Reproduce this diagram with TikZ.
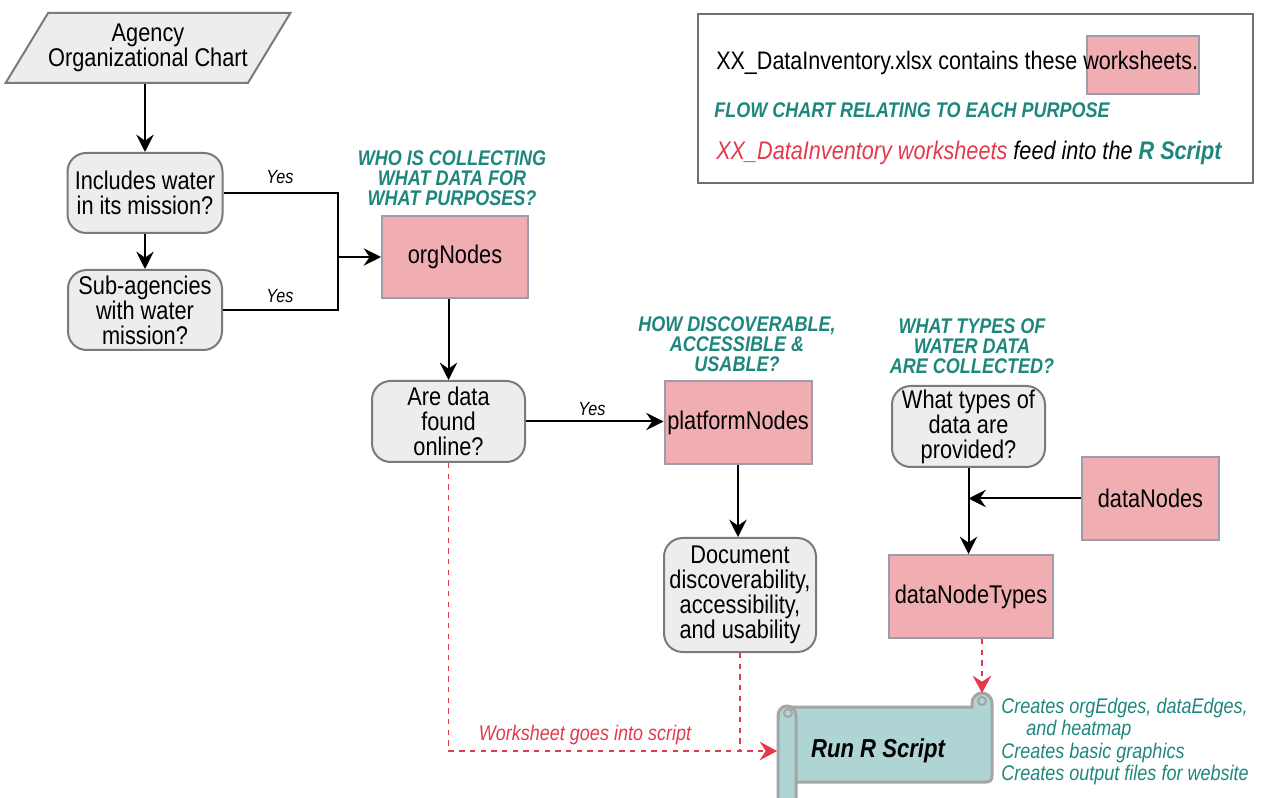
\documentclass[tikz,border=0pt]{standalone}
\usepackage{fontspec}
\setmainfont{Liberation Sans}[FakeStretch=0.85]
\usetikzlibrary{shapes.geometric,arrows.meta}
\definecolor{wteal}{RGB}{30,135,125}
\definecolor{wred}{RGB}{226,58,76}
\definecolor{pfill}{RGB}{240,174,179}
\definecolor{pborder}{RGB}{158,156,171}
\definecolor{gfill}{RGB}{236,237,236}
\definecolor{gborder}{RGB}{122,122,122}
\definecolor{sfill}{RGB}{174,212,212}
\definecolor{sborder}{RGB}{165,165,165}
\definecolor{lborder}{RGB}{112,112,112}
\newlength\px \setlength\px{0.75pt}
\newcommand\nodefont{\fontsize{19.2pt}{18.75pt}\selectfont}
\newcommand\titlefont{\fontsize{15.9pt}{15pt}\selectfont\bfseries\itshape}
\begin{document}
\begin{tikzpicture}[x=0.75pt,y=-0.75pt,
  gbox/.style={draw=gborder, fill=gfill, line width=1.5pt, rounded corners=14pt, align=center, font=\nodefont, inner sep=0pt},
  pbox/.style={draw=pborder, fill=pfill, line width=1.5pt, align=center, font=\nodefont, inner sep=0pt},
  arr/.style={line width=1.5pt, -{Stealth[length=13pt,width=13pt,inset=4.5pt]}},
  link/.style={line width=1.5pt},
  rdash/.style={draw=wred, line width=0.9pt, dash pattern=on 4pt off 4pt},
  rarr/.style={rdash, -{Stealth[length=13pt,width=14pt,inset=4.5pt,fill=wred]}},
  ttl/.style={text=wteal, font=\titlefont, align=center, inner sep=0pt},
  yes/.style={font=\fontsize{14.3pt}{15pt}\selectfont\itshape, inner sep=0pt},
  scroll/.style={draw=sborder, fill=sfill, line width=2.25pt}
]
\useasboundingbox (0,0) rectangle (1261,798);

% legend
\draw[draw=lborder, line width=1.5pt] (698,14) rectangle (1253,183);
\fill[pfill, draw=pborder, line width=1.5pt] (1087,36) rectangle (1199,94);
\node[anchor=base west, inner sep=0pt, font=\fontsize{19pt}{20pt}\selectfont] (leg1) at (716,70) {XX\_DataInventory.xlsx contains these worksheets.};
\node[anchor=base west, inner sep=0pt, text=wteal, font=\titlefont] (leg2) at (714,118) {FLOW CHART RELATING TO EACH PURPOSE};
\node[anchor=base west, inner sep=0pt, font=\fontsize{19.1pt}{20pt}\selectfont\itshape] (leg3) at (716,160) {\textcolor{wred}{XX\_DataInventory worksheets} feed into the \textcolor{wteal}{\bfseries R Script}};

% left column
\node[trapezium, trapezium stretches=true, trapezium left angle=48.5, trapezium right angle=131.5,
  minimum width=285\px, minimum height=70\px, draw=gborder, fill=gfill, line width=1.5pt,
  align=center, font=\nodefont, inner sep=0pt] (chart) at (148,48) {Agency\\Organizational Chart};
\node[gbox, minimum width=155\px, minimum height=80\px] (inc) at (145,193) {Includes water\\in its mission?};
\node[gbox, minimum width=154\px, minimum height=80\px] (sub) at (145,310) {Sub-agencies\\with water\\mission?};
\draw[arr] (chart.south -| inc.north) -- (inc.north);
\draw[arr] (inc.south) -- (sub.north);

% orgNodes
\node[ttl] (t1) at (452,178) {WHO IS COLLECTING\\WHAT DATA FOR\\WHAT PURPOSES?};
\node[pbox, minimum width=146\px, minimum height=82\px] (org) at (455,257) {orgNodes};
\coordinate (jn) at (338,257);
\draw[link] (inc.east) -| (jn) |- (sub.east);
\draw[arr] (jn) -- (org.west);
\node[yes] (y1) at (280,177) {Yes};
\node[yes] (y2) at (280,296) {Yes};

\node[gbox, minimum width=153\px, minimum height=81\px] (online) at (448.5,421.5) {Are data\\found\\online?};
\draw[arr] (org.south -| online.north) -- (online.north);

% platform
\node[ttl] (t2) at (737,344) {HOW DISCOVERABLE,\\ACCESSIBLE \&\\USABLE?};
\node[pbox, minimum width=147\px, minimum height=83\px] (plat) at (738,422.5) {platformNodes};
\draw[arr] (online.east) -- (online.east -| plat.west);
\node[yes] (y3) at (592,409) {Yes};
\node[gbox, minimum width=152\px, minimum height=114\px] (doc) at (740,595) {Document\\discoverability,\\accessibility,\\and usability};
\draw[arr] (plat.south) -- (plat.south |- doc.north);

% data types
\node[ttl] (t3) at (972,346) {WHAT TYPES OF\\WATER DATA\\ARE COLLECTED?};
\node[gbox, minimum width=153\px, minimum height=81\px] (types) at (968.5,426.5) {What types of\\data are\\provided?};
\node[pbox, minimum width=137\px, minimum height=83\px] (dn) at (1150.5,498.5) {dataNodes};
\node[pbox, minimum width=164\px, minimum height=83\px] (dnt) at (971,596.5) {dataNodeTypes};
\draw[arr] (types.south) -- (types.south |- dnt.north);
\draw[arr] (dn.west) -- (dn.west -| types.south);

% scroll
\draw[scroll] (790,707) -- (972,707) -- (972,703)
  .. controls (972,697.5) and (976.5,693) .. (982,693)
  .. controls (987.5,693) and (992,697.5) .. (992,703)
  -- (992,776) .. controls (992,780) and (990,782) .. (986,782) -- (790,782) -- cycle;
\draw[sborder, line width=1.5pt] (982,701) circle (4);
\draw[scroll] (778,716) .. controls (778,710) and (782,706) .. (787,706)
  .. controls (792,706) and (796,710) .. (796,716) -- (796,810) -- (778,810) -- cycle;
\draw[sborder, line width=1.5pt] (788,713) circle (4);
\node[inner sep=0pt, font=\fontsize{19.5pt}{20pt}\selectfont\bfseries\itshape] (script) at (878,751) {Run R Script};
\coordinate (ltip) at (777,751);
\coordinate (rtop) at (982,693);

\node[anchor=west, inner sep=0pt, align=left, text=wteal, font=\fontsize{15.9pt}{16.9pt}\selectfont\itshape] (notes) at (1001,741.5)
  {Creates orgEdges, dataEdges,\\\hspace*{25\px}and heatmap\\Creates basic graphics\\Creates output files for website};

% red dashed connectors
\draw[rdash] (doc.south) -- (doc.south |- ltip);
\draw[rarr] (online.south) |- (ltip);
\draw[rarr] (dnt.south -| rtop) -- (rtop);
\node[text=wred, inner sep=0pt, font=\fontsize{15.9pt}{16pt}\selectfont\itshape] (wlab) at (585,735) {Worksheet goes into script};
\end{tikzpicture}
\end{document}
